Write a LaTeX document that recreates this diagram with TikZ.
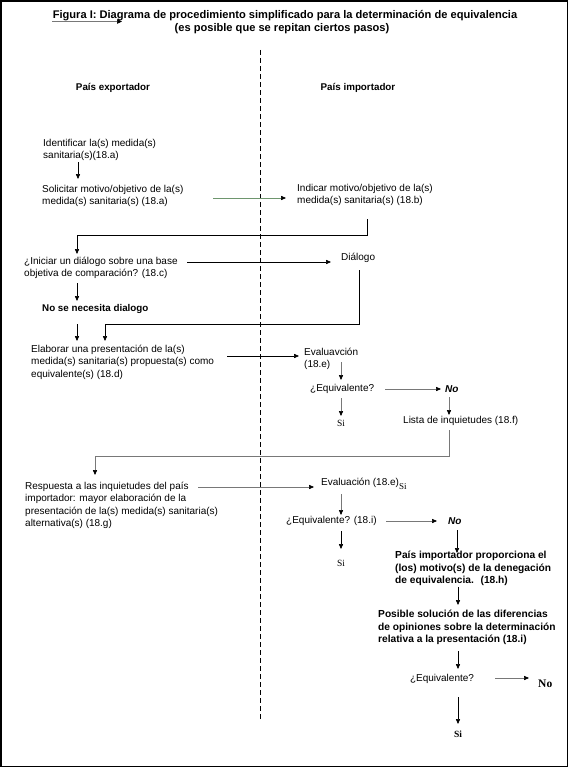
\documentclass[tikz,border=0pt]{standalone}
\usepackage{fontspec}
\setmainfont{Liberation Sans}
\newfontfamily\seriffam{Liberation Serif}
\usetikzlibrary{arrows.meta}
\definecolor{linegray}{RGB}{120,120,120}
\definecolor{greengray}{RGB}{110,150,110}
\begin{document}
\begin{tikzpicture}[x=1pt,y=-1pt,
  txt/.style={inner sep=0pt, align=left, anchor=north west, font=\fontsize{10}{12.4}\selectfont},
  txtw/.style={inner sep=0pt, anchor=west, font=\fontsize{10}{12.4}\selectfont},
  btxt/.style={txt, font=\fontsize{10.2}{12.4}\selectfont\bfseries},
  titlefont/.style={inner sep=0pt, font=\fontsize{11.1}{13}\selectfont\bfseries},
  sitext/.style={inner sep=0pt, font=\fontsize{9.5}{11}\selectfont\seriffam},
  notext/.style={inner sep=0pt, anchor=west, font=\fontsize{10}{12}\selectfont\bfseries\itshape},
  arr/.style={-{Triangle[length=5pt,width=4.2pt,color=black]}, line width=0.7pt, draw=black},
  garr/.style={arr, draw=linegray, line width=0.6pt},
  divider/.style={line width=0.8pt, dash pattern=on 5pt off 3pt}
]
\useasboundingbox (0,0) rectangle (569,768);
\draw[line width=1.6pt] (1,1) rectangle (567.5,766.5);

% title
\node[titlefont] (title1) at (285,16) {Figura I: Diagrama de procedimiento simplificado para la determinación de equivalencia};
\node[titlefont] (title2) at (282,29) {(es posible que se repitan ciertos pasos)};
\coordinate (ts) at (52,21.5);
\coordinate (te) at (122,21.5);
\draw[-{Triangle[length=5pt,width=4.5pt,color=black]}, draw=linegray, line width=0.6pt] (ts) -- (te);

% divider
\coordinate (dtop) at (260,50);
\coordinate (dbot) at (260,720);
\draw[divider] (dtop) -- (dbot);

% headers
\node[inner sep=0pt, font=\fontsize{9.8}{12}\selectfont\bfseries] (pe) at (113,88) {País exportador};
\node[inner sep=0pt, font=\fontsize{9.8}{12}\selectfont\bfseries] (pi) at (358,88) {País importador};

% nodes
\node[txt] (iden) at (43,139) {Identificar la(s) medida(s)\\sanitaria(s)(18.a)};
\node[txt] (soli) at (42,185) {Solicitar motivo/objetivo de la(s)\\medida(s) sanitaria(s) (18.a)};
\node[txt] (indi) at (297,184) {Indicar motivo/objetivo de la(s)\\medida(s) sanitaria(s) (18.b)};
\node[txt] (inic) at (24,257) {¿Iniciar un diálogo sobre una base\\objetiva de comparación? (18.c)};
\node[txtw] (dial) at (341,258) {Diálogo};
\node[inner sep=0pt, anchor=west, font=\fontsize{9.8}{12}\selectfont\bfseries] (nodial) at (42,309) {No se necesita dialogo};
\node[txt] (elab) at (31,345) {Elaborar una presentación de la(s)\\medida(s) sanitaria(s) propuesta(s) como\\equivalente(s) (18.d)};
\node[txt] (eval1) at (304,348) {Evaluavción\\(18.e)};
\node[txtw] (eq1) at (310,389) {¿Equivalente?};
\node[notext] (no1) at (445,389) {No};
\node[sitext] (si1) at (341,423) {Si};
\node[txtw] (lista) at (403,421) {Lista de inquietudes (18.f)};
\node[txt] (resp) at (25,482) {Respuesta a las inquietudes del país\\importador: mayor elaboración de la\\presentación de la(s) medida(s) sanitaria(s)\\alternativa(s) (18.g)};
\node[txtw] (eval2) at (321,484) {Evaluación (18.e)\raisebox{-4pt}{\fontsize{9}{10}\selectfont\seriffam Si}};
\node[txtw] (eq2) at (286,521) {¿Equivalente? (18.i)};
\node[notext] (no2) at (448,521) {No};
\node[sitext] (si2) at (341,563) {Si};
\node[btxt] (pimp) at (395,551) {País importador proporciona el\\(los) motivo(s) de la denegación\\de equivalencia.~ (18.h)};
\node[btxt] (posi) at (378,610) {Posible solución de las diferencias\\de opiniones sobre la determinación\\relativa a la presentación (18.i)};
\node[inner sep=0pt, font=\fontsize{10}{12}\selectfont] (eq3) at (442,679) {¿Equivalente?};
\node[inner sep=0pt, anchor=west, font=\fontsize{11.5}{13}\selectfont\seriffam\bfseries] (no3) at (538,684) {No};
\node[sitext, font=\fontsize{9.5}{11}\selectfont\seriffam\bfseries] (si3) at (458,734) {Si};

% coordinates for connectors
\coordinate (a1s) at (78,162);  \coordinate (a1e) at (78,179);
\coordinate (g1s) at (213,198); \coordinate (g1e) at (286,198);
\coordinate (b1a) at (367,219); \coordinate (b1b) at (367,235);
\coordinate (b1c) at (77,235);  \coordinate (b1d) at (77,254);
\coordinate (c1s) at (187,262); \coordinate (c1e) at (331,262);
\coordinate (d1s) at (77,283);  \coordinate (d1e) at (77,301);
\coordinate (e1a) at (359,270); \coordinate (e1b) at (359,324);
\coordinate (e1c) at (105,324); \coordinate (e1d) at (105,341);
\coordinate (f1s) at (77,324);  \coordinate (f1e) at (77,341);
\coordinate (h1s) at (227,356); \coordinate (h1e) at (299,356);
\coordinate (i1s) at (341,362); \coordinate (i1e) at (341,380);
\coordinate (j1s) at (385,389); \coordinate (j1e) at (441,389);
\coordinate (k1s) at (341,398); \coordinate (k1e) at (341,416);
\coordinate (l1s) at (449,397); \coordinate (l1e) at (449,415);
\coordinate (m1a) at (449,430); \coordinate (m1b) at (449,456);
\coordinate (m1c) at (95,456);  \coordinate (m1d) at (95,475);
\coordinate (n1s) at (198,487); \coordinate (n1e) at (314,487);
\coordinate (o1s) at (341,494); \coordinate (o1e) at (341,515);
\coordinate (p1s) at (386,521); \coordinate (p1e) at (437,521);
\coordinate (q1s) at (341,531); \coordinate (q1e) at (341,549);
\coordinate (r1s) at (457,530); \coordinate (r1e) at (457,553);
\coordinate (s1s) at (458,587); \coordinate (s1e) at (458,605);
\coordinate (u1s) at (458,651); \coordinate (u1e) at (458,669);
\coordinate (v1s) at (495,678); \coordinate (v1e) at (529,678);
\coordinate (w1s) at (458,697); \coordinate (w1e) at (458,724);

% connectors
\draw[arr] (a1s) -- (a1e);
\draw[arr, draw=greengray] (g1s) -- (g1e);
\draw[arr] (b1a) -- (b1b) -- (b1c) -- (b1d);
\draw[arr] (c1s) -- (c1e);
\draw[arr] (d1s) -- (d1e);
\draw[arr] (e1a) -- (e1b) -- (e1c) -- (e1d);
\draw[arr] (f1s) -- (f1e);
\draw[arr] (h1s) -- (h1e);
\draw[garr] (i1s) -- (i1e);
\draw[garr] (j1s) -- (j1e);
\draw[garr] (k1s) -- (k1e);
\draw[garr] (l1s) -- (l1e);
\draw[arr, draw=linegray] (m1a) -- (m1b) -- (m1c) -- (m1d);
\draw[garr] (n1s) -- (n1e);
\draw[garr] (o1s) -- (o1e);
\draw[garr] (p1s) -- (p1e);
\draw[arr] (q1s) -- (q1e);
\draw[arr] (r1s) -- (r1e);
\draw[arr] (s1s) -- (s1e);
\draw[arr] (u1s) -- (u1e);
\draw[garr] (v1s) -- (v1e);
\draw[arr] (w1s) -- (w1e);
\end{tikzpicture}
\end{document}
